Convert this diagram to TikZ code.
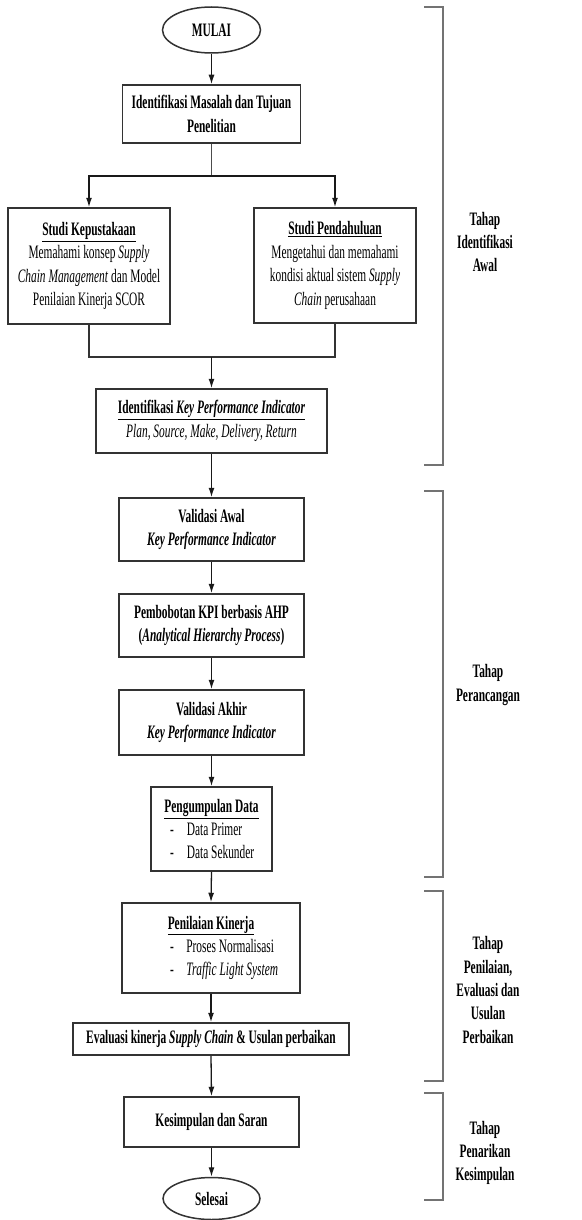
\documentclass[tikz,border=0pt]{standalone}
\usepackage{fontspec}
\setmainfont{Liberation Serif}[FakeStretch=0.6]
\usetikzlibrary{shapes.geometric,arrows.meta}
\newcommand{\fsz}{\fontsize{19}{23.4}\selectfont}
\tikzset{
  box/.style={draw=black!80, line width=1.5pt, inner sep=0pt, align=center, font=\fsz, text=black},
  ell/.style={ellipse, draw=black!80, line width=1.5pt, inner sep=0pt, font=\fsz\bfseries},
  arr/.style={-{Latex[length=9.5pt,width=6pt]}, line width=1.3pt, draw=black!90},
  conn/.style={line width=1.3pt, draw=black!80},
  thinconn/.style={line width=0.8pt, draw=black!70},
  brk/.style={line width=1.4pt, draw=black!55},
  stage/.style={align=center, font=\fsz\bfseries, inner sep=0pt}
}
\begin{document}
\begin{tikzpicture}[x=1pt,y=-1pt]
\useasboundingbox (0,0) rectangle (581,1220);
% main column
\node[ell, minimum width=98, minimum height=46] (start) at (211.5,30) {MULAI};
\node[box, minimum width=178, minimum height=58, font=\fsz\bfseries] (b1) at (211.5,114) {Identifikasi Masalah dan Tujuan\\Penelitian};
\node[box, minimum width=162, minimum height=116] (s1) at (89,266) {\textbf{\underline{Studi Kepustakaan}}\\Memahami konsep \textit{Supply}\\\textit{Chain Management} dan Model\\Penilaian Kinerja SCOR};
\node[box, minimum width=162, minimum height=115] (s2) at (335,265.5) {\textbf{\underline{Studi Pendahuluan}}\\Mengetahui dan memahami\\kondisi aktual sistem \textit{Supply}\\\textit{Chain} perusahaan};
\node[box, minimum width=231, minimum height=64] (kpi) at (211.5,421) {\textbf{\underline{Identifikasi \textit{Key Performance Indicator}}}\\\textit{Plan, Source, Make, Delivery, Return}};
\node[box, minimum width=185, minimum height=63, font=\fsz\bfseries] (v1) at (211.5,529.5) {Validasi Awal\\\textit{Key Performance Indicator}};
\node[box, minimum width=185, minimum height=63, font=\fsz\bfseries] (bob) at (211.5,625.5) {Pembobotan KPI berbasis AHP\\(\textit{Analytical Hierarchy Process})};
\node[box, minimum width=185, minimum height=65, font=\fsz\bfseries] (v2) at (211.5,722.5) {Validasi Akhir\\\textit{Key Performance Indicator}};
\node[box, minimum width=121, minimum height=84] (data) at (211.5,829) {\textbf{\underline{Pengumpulan Data}}\\\makebox[83pt][l]{-\hspace{13pt}Data Primer}\\\makebox[83pt][l]{-\hspace{13pt}Data Sekunder}};
\node[box, minimum width=178, minimum height=90] (nilai) at (211,948) {\textbf{\underline{Penilaian Kinerja}}\\\makebox[82pt][l]{-\hspace{12.5pt}Proses Normalisasi}\\\makebox[82pt][l]{-\hspace{12.5pt}\textit{Traffic Light System}}};
\node[box, minimum width=276, minimum height=32, font=\fsz\bfseries] (eval) at (211,1039) {Evaluasi kinerja \textit{Supply Chain} \& Usulan perbaikan};
\node[box, minimum width=175, minimum height=50, font=\fsz\bfseries] (kes) at (211.5,1122) {Kesimpulan dan Saran};
\node[ell, minimum width=97, minimum height=42] (end) at (211.5,1198.5) {Selesai};
% connectors
\coordinate (sp) at (211.5,176);
\coordinate (mg) at (211.5,357);
\draw[arr] (start.south) -- (b1.north);
\draw[thinconn] (b1.south) -- (sp);
\draw[arr] (sp) -| (s1.north);
\draw[arr] (sp) -| (s2.north);
\draw[conn] (s1.south) |- (mg);
\draw[conn] (s2.south) |- (mg);
\draw[arr] (mg) -- (kpi.north);
\draw[arr] (kpi.south) -- (v1.north);
\draw[arr] (v1.south) -- (bob.north);
\draw[arr] (bob.south) -- (v2.north);
\draw[arr] (v2.south) -- (data.north);
\draw[arr] (data.south) -- (nilai.north);
\draw[arr] (nilai.south) -- (eval.north);
\draw[arr] (eval.south) -- (kes.north);
\draw[arr] (kes.south) -- (end.north);
% brackets
\draw[brk] (424,7) -- (443,7) -- (443,465) -- (424,465);
\draw[brk] (424,491) -- (443,491) -- (443,877) -- (424,877);
\draw[brk] (424,891) -- (443,891) -- (443,1081) -- (424,1081);
\draw[brk] (424,1093) -- (443,1093) -- (443,1200) -- (424,1200);
% stage labels
\node[stage] (st1) at (485,242) {Tahap\\Identifikasi\\Awal};
\node[stage] (st2) at (488,685) {Tahap\\Perancangan};
\node[stage] (st3) at (488,990) {Tahap\\Penilaian,\\Evaluasi dan\\Usulan\\Perbaikan};
\node[stage] (st4) at (485,1153) {Tahap\\Penarikan\\Kesimpulan};
\end{tikzpicture}
\end{document}
